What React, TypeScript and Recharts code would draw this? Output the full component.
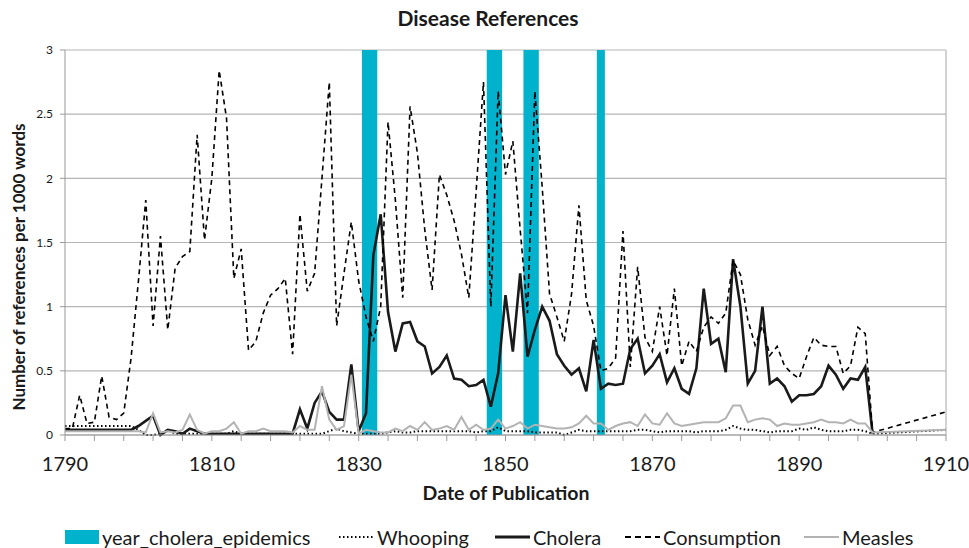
import { Bar, CartesianGrid, ComposedChart, Line, ReferenceLine, XAxis, YAxis } from "recharts";

document.body.style.margin = "0";

const FONT = "Lato, 'Noto Sans', sans-serif";

// yearly values 1790..1900
const firstYear = 1790;
const lastYear = 1910;

const consumption = [
  0.05, 0.05, 0.31, 0.09, 0.1, 0.46, 0.14, 0.12, 0.17, 0.6,
  1.2, 1.83, 0.85, 1.55, 0.82, 1.3, 1.39, 1.43, 2.34, 1.52,
  2.0, 2.84, 2.47, 1.22, 1.45, 0.66, 0.73, 0.95, 1.09, 1.14,
  1.22, 0.63, 1.72, 1.12, 1.26, 2.0, 2.75, 0.85, 1.26, 1.66,
  1.2, 0.92, 0.73, 1.0, 2.44, 1.83, 1.07, 2.56, 2.2, 1.6,
  1.13, 2.03, 1.87, 1.67, 1.41, 1.07, 1.9, 2.75, 1.0, 2.68,
  2.03, 2.29, 1.6, 0.95, 2.68, 1.93, 1.1, 0.92, 0.73, 1.1,
  1.79, 1.05, 0.85, 0.5, 0.52, 0.6, 1.59, 0.53, 1.31, 0.76,
  0.65, 1.0, 0.62, 1.14, 0.54, 0.73, 0.65, 0.84, 0.92, 0.87,
  0.95, 1.36, 1.25, 0.9, 0.7, 0.85, 0.62, 0.69, 0.54, 0.48,
  0.44, 0.61, 0.76, 0.7, 0.69, 0.69, 0.48, 0.54, 0.84, 0.79,
  0.02
];

const cholera = [
  0.04, 0.04, 0.04, 0.04, 0.04, 0.04, 0.04, 0.04, 0.04, 0.04,
  0.07, 0.11, 0.15, 0.0, 0.04, 0.03, 0.01, 0.05, 0.03, 0.01,
  0.01, 0.01, 0.01, 0.01, 0.01, 0.01, 0.01, 0.01, 0.01, 0.01,
  0.01, 0.01, 0.2, 0.05, 0.25, 0.34, 0.18, 0.12, 0.12, 0.55,
  0.03, 0.17, 1.4, 1.72, 0.96, 0.65, 0.87, 0.88, 0.73, 0.69,
  0.48, 0.53, 0.62, 0.44, 0.43, 0.38, 0.39, 0.43, 0.22, 0.48,
  1.09, 0.65, 1.26, 0.61, 0.82, 1.0, 0.89, 0.63, 0.54, 0.47,
  0.52, 0.34, 0.74, 0.36, 0.4, 0.39, 0.4, 0.67, 0.75, 0.48,
  0.54, 0.63, 0.41, 0.52, 0.36, 0.32, 0.52, 1.14, 0.71, 0.75,
  0.49, 1.37, 1.0, 0.4, 0.5, 1.0, 0.4, 0.44, 0.38, 0.26,
  0.31, 0.31, 0.32, 0.38, 0.54, 0.47, 0.36, 0.44, 0.43, 0.53,
  0.01
];

const measles = [
  0.03, 0.03, 0.03, 0.03, 0.03, 0.03, 0.03, 0.03, 0.03, 0.03,
  0.03, 0.02, 0.17, 0.02, 0.03, 0.02, 0.04, 0.16, 0.04, 0.01,
  0.03, 0.03, 0.05, 0.1, 0.01, 0.03, 0.03, 0.05, 0.03, 0.03,
  0.03, 0.02, 0.07, 0.04, 0.04, 0.38, 0.12, 0.04, 0.07, 0.47,
  0.01, 0.04, 0.03, 0.02, 0.02, 0.05, 0.03, 0.07, 0.04, 0.1,
  0.04, 0.05, 0.07, 0.04, 0.14, 0.04, 0.08, 0.04, 0.05, 0.12,
  0.05, 0.07, 0.1, 0.05, 0.08, 0.07, 0.06, 0.05, 0.05, 0.06,
  0.09, 0.15, 0.09, 0.09, 0.04, 0.07, 0.09, 0.1, 0.07, 0.16,
  0.09, 0.08, 0.17, 0.09, 0.07, 0.08, 0.09, 0.1, 0.1, 0.1,
  0.13, 0.23, 0.23, 0.1, 0.12, 0.13, 0.12, 0.07, 0.09, 0.08,
  0.08, 0.09, 0.1, 0.12, 0.1, 0.1, 0.09, 0.12, 0.09, 0.09,
  0.02
];

const whooping = [
  0.07, 0.07, 0.07, 0.07, 0.07, 0.07, 0.07, 0.07, 0.07, 0.07,
  0.04, 0.0, 0.0, 0.01, 0.04, 0.01, 0.01, 0.01, 0.01, 0.01,
  0.01, 0.01, 0.01, 0.03, 0.01, 0.01, 0.01, 0.01, 0.01, 0.01,
  0.01, 0.01, 0.01, 0.01, 0.01, 0.01, 0.03, 0.05, 0.03, 0.02,
  0.01, 0.01, 0.01, 0.01, 0.02, 0.03, 0.02, 0.02, 0.03, 0.03,
  0.03, 0.03, 0.03, 0.03, 0.03, 0.03, 0.02, 0.03, 0.03, 0.06,
  0.03, 0.03, 0.03, 0.03, 0.02, 0.02, 0.02, 0.02, 0.0, 0.02,
  0.04, 0.03, 0.03, 0.03, 0.03, 0.03, 0.03, 0.03, 0.04, 0.04,
  0.03, 0.02, 0.03, 0.03, 0.03, 0.03, 0.02, 0.03, 0.03, 0.03,
  0.04, 0.07, 0.05, 0.04, 0.04, 0.03, 0.02, 0.03, 0.03, 0.03,
  0.05, 0.04, 0.06, 0.04, 0.03, 0.03, 0.03, 0.04, 0.04, 0.03,
  0.01
];

// values at 1910 (only the end point is drawn after 1900)
const consumption1910 = 0.18;
const measles1910 = 0.04;
const whooping1910 = 0.04;

const epidemicYears = [1831, 1832, 1848, 1849, 1853, 1854, 1863];
const epidemicValue = 3;

const xTicks: number[] = [];
for (let y = firstYear; y <= lastYear; y += 4) xTicks.push(y);
const yTicks = [0, 0.5, 1, 1.5, 2, 2.5, 3];

const data: Record<string, number | null>[] = [];
for (let y = firstYear; y <= lastYear; y++) {
  const i = y - firstYear;
  const inRange = i < consumption.length;
  data.push({
    year: y,
    epidemic: epidemicYears.includes(y) ? epidemicValue : null,
    whooping: inRange ? whooping[i] : y === lastYear ? whooping1910 : null,
    cholera: inRange ? cholera[i] : null,
    consumption: inRange ? consumption[i] : y === lastYear ? consumption1910 : null,
    measles: inRange ? measles[i] : y === lastYear ? measles1910 : null
  });
}

const BLUE = "#00b2cc";
const GRID = "#b5b5b5";

// excel draws the columns with no gap, so neighbouring years touch
function EpidemicBar(props: any) {
  const { x, y, width, height } = props;
  if (!height || height <= 0) return null;
  return <rect x={x - 0.4} y={y} width={width + 0.8} height={height} fill={BLUE} />;
}

function Swatch(props: { kind: string }) {
  const { kind } = props;
  if (kind === "bar") {
    return (
      <svg width={34} height={16}>
        <rect x={0} y={1} width={34} height={14} fill={BLUE} />
      </svg>
    );
  }
  const styles: Record<string, { stroke: string; width: number; dash?: string }> = {
    whooping: { stroke: "#000", width: 2, dash: "1.5 2.5" },
    cholera: { stroke: "#1a1a1a", width: 3 },
    consumption: { stroke: "#000", width: 1.8, dash: "6 4" },
    measles: { stroke: "#b3b3b3", width: 2.2 }
  };
  const s = styles[kind];
  return (
    <svg width={35} height={16}>
      <line x1={0} y1={8} x2={35} y2={8} stroke={s.stroke} strokeWidth={s.width} strokeDasharray={s.dash} />
    </svg>
  );
}

const legendItems = [
  { kind: "bar", label: "year_cholera_epidemics", left: 65 },
  { kind: "whooping", label: "Whooping", left: 339 },
  { kind: "cholera", label: "Cholera", left: 495 },
  { kind: "consumption", label: "Consumption", left: 625 },
  { kind: "measles", label: "Measles", left: 804 }
];

export default function App() {
  return (
    <div style={{ position: "relative", width: 969, height: 548, fontFamily: FONT, background: "#fff" }}>
      <ComposedChart
        width={969}
        height={548}
        data={data}
        margin={{ top: 50, right: 23, bottom: 73, left: 0 }}
      >
        <CartesianGrid vertical={false} stroke={GRID} strokeWidth={1.2} />
        <XAxis
          dataKey="year"
          type="number"
          domain={[firstYear, lastYear]}
          ticks={xTicks}
          interval={0}
          tickFormatter={(v: number) => ((v - firstYear) % 20 === 0 ? String(v) : "")}
          tick={{ fill: "#1a1a1a", fontSize: 20, fontFamily: FONT }}
          tickSize={6}
          tickMargin={16}
          stroke="#999"
          height={40}
        />
        <YAxis
          type="number"
          domain={[0, 3]}
          ticks={yTicks}
          interval={0}
          tick={{ fill: "#1a1a1a", fontSize: 12, fontFamily: FONT }}
          tickSize={5}
          tickMargin={7}
          stroke="#999"
          width={65}
        />
        <ReferenceLine x={lastYear} stroke={GRID} strokeWidth={1.2} />
        <Bar dataKey="epidemic" fill={BLUE} barSize={7.2} shape={EpidemicBar} isAnimationActive={false} />
        <Line
          type="linear"
          dataKey="whooping"
          stroke="#000"
          strokeWidth={2}
          strokeDasharray="1.5 2.5"
          dot={false}
          connectNulls
          isAnimationActive={false}
        />
        <Line
          type="linear"
          dataKey="cholera"
          stroke="#1a1a1a"
          strokeWidth={2.6}
          dot={false}
          isAnimationActive={false}
        />
        <Line
          type="linear"
          dataKey="consumption"
          stroke="#000"
          strokeWidth={1.6}
          strokeDasharray="5 4"
          dot={false}
          connectNulls
          isAnimationActive={false}
        />
        <Line
          type="linear"
          dataKey="measles"
          stroke="#b3b3b3"
          strokeWidth={2}
          dot={false}
          connectNulls
          isAnimationActive={false}
        />
      </ComposedChart>

      <div
        style={{
          position: "absolute",
          left: 0,
          top: 5,
          width: 976,
          textAlign: "center",
          fontWeight: 700,
          fontSize: 21,
          color: "#1a1a1a"
        }}
      >
        Disease References
      </div>

      <div
        style={{
          position: "absolute",
          left: 18,
          top: 267,
          transform: "translate(-50%, -50%) rotate(-90deg)",
          whiteSpace: "nowrap",
          fontWeight: 700,
          fontSize: 17,
          color: "#1a1a1a"
        }}
      >
        Number of references per 1000 words
      </div>

      <div
        style={{
          position: "absolute",
          left: 506,
          top: 492,
          transform: "translate(-50%, -50%)",
          whiteSpace: "nowrap",
          fontWeight: 700,
          fontSize: 19.5,
          color: "#1a1a1a"
        }}
      >
        Date of Publication
      </div>

      {legendItems.map((item) => (
        <div
          key={item.label}
          style={{
            position: "absolute",
            left: item.left,
            top: 525,
            display: "flex",
            alignItems: "center",
            gap: 3,
            fontSize: 20,
            color: "#1a1a1a",
            whiteSpace: "nowrap"
          }}
        >
          <Swatch kind={item.kind} />
          <span>{item.label}</span>
        </div>
      ))}
    </div>
  );
}
